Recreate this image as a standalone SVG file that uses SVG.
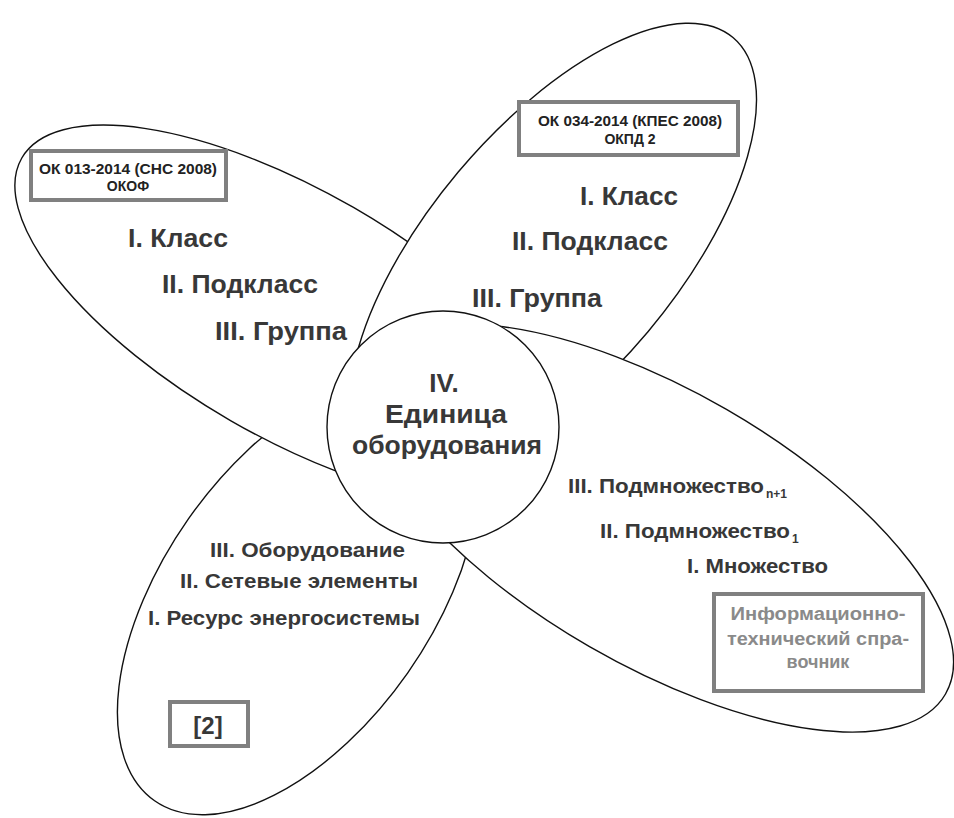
<svg xmlns="http://www.w3.org/2000/svg" width="954" height="818" viewBox="0 0 954 818">
<style>
.petal{fill:#fff;stroke:#111;stroke-width:1.4}
.box{fill:#fff;stroke:#808080;stroke-width:4}
.t{font-family:"Liberation Sans",Arial,sans-serif;font-weight:bold;fill:#383838}
.big{font-size:26px}
.mid{font-size:20px}
.sm{font-size:14px;fill:#222}
.gr{font-size:18px;fill:#8a8a8a}
.sub{font-size:12px}
</style>
<rect width="954" height="818" fill="#fff"/>
<g id="petal-bottom-left">
<ellipse class="petal" cx="298" cy="596" rx="250" ry="134" transform="rotate(-55 298 596)"/>
<text class="t mid" x="210" y="557" textLength="195" lengthAdjust="spacingAndGlyphs">III. Оборудование</text>
<text class="t mid" x="180" y="588" textLength="238" lengthAdjust="spacingAndGlyphs">II. Сетевые элементы</text>
<text class="t mid" x="148" y="625" textLength="272" lengthAdjust="spacingAndGlyphs">I. Ресурс энергосистемы</text>
<rect class="box" x="170" y="702" width="78" height="44"/>
<text class="t" x="208" y="734" font-size="24" text-anchor="middle">[2]</text>
</g>
<g id="petal-top-left">
<ellipse class="petal" cx="292" cy="314" rx="312" ry="123" transform="rotate(30 292 314)"/>
<rect class="box" x="31" y="151" width="195" height="49"/>
<text class="t sm" x="128" y="174" text-anchor="middle" textLength="178" lengthAdjust="spacingAndGlyphs">ОК 013-2014 (СНС 2008)</text>
<text class="t sm" x="128" y="191" text-anchor="middle">ОКОФ</text>
<text class="t big" x="128" y="247" textLength="100" lengthAdjust="spacingAndGlyphs">I. Класс</text>
<text class="t big" x="162" y="293" textLength="156" lengthAdjust="spacingAndGlyphs">II. Подкласс</text>
<text class="t big" x="215" y="340" textLength="132" lengthAdjust="spacingAndGlyphs">III. Группа</text>
</g>
<g id="petal-top-right">
<ellipse class="petal" cx="553" cy="252" rx="280" ry="124" transform="rotate(-50 553 252)"/>
<rect class="box" x="519" y="102" width="219" height="53"/>
<text class="t sm" x="630" y="126" text-anchor="middle" textLength="184" lengthAdjust="spacingAndGlyphs">ОК 034-2014 (КПЕС 2008)</text>
<text class="t sm" x="630" y="144" text-anchor="middle">ОКПД 2</text>
<text class="t big" x="580" y="205" textLength="98" lengthAdjust="spacingAndGlyphs">I. Класс</text>
<text class="t big" x="512" y="250" textLength="156" lengthAdjust="spacingAndGlyphs">II. Подкласс</text>
<text class="t big" x="472" y="307" textLength="130" lengthAdjust="spacingAndGlyphs">III. Группа</text>
</g>
<g id="petal-bottom-right">
<ellipse class="petal" cx="658" cy="528" rx="332" ry="137" transform="rotate(30 658 528)"/>
<text class="t mid" x="568" y="493"><tspan textLength="196" lengthAdjust="spacingAndGlyphs">III. Подмножество</tspan><tspan class="sub" dx="2" dy="5">n+1</tspan></text>
<text class="t mid" x="600" y="538"><tspan textLength="190" lengthAdjust="spacingAndGlyphs">II. Подмножество</tspan><tspan class="sub" dx="2" dy="5">1</tspan></text>
<text class="t mid" x="687" y="573" textLength="141" lengthAdjust="spacingAndGlyphs">I. Множество</text>
<rect class="box" x="714" y="594" width="209" height="97"/>
<text class="t gr" x="818" y="620" text-anchor="middle" textLength="175" lengthAdjust="spacingAndGlyphs">Информационно-</text>
<text class="t gr" x="818" y="645" text-anchor="middle" textLength="182" lengthAdjust="spacingAndGlyphs">технический спра-</text>
<text class="t gr" x="818" y="668" text-anchor="middle">вочник</text>
</g>
<g id="center-unit">
<circle class="petal" cx="443" cy="427" r="116"/>
<text class="t big" x="444" y="392" text-anchor="middle">IV.</text>
<text class="t big" x="446" y="423" text-anchor="middle" textLength="122" lengthAdjust="spacingAndGlyphs">Единица</text>
<text class="t big" x="447" y="454" text-anchor="middle" textLength="190" lengthAdjust="spacingAndGlyphs">оборудования</text>
</g>
<g id="connectors"/>
</svg>
